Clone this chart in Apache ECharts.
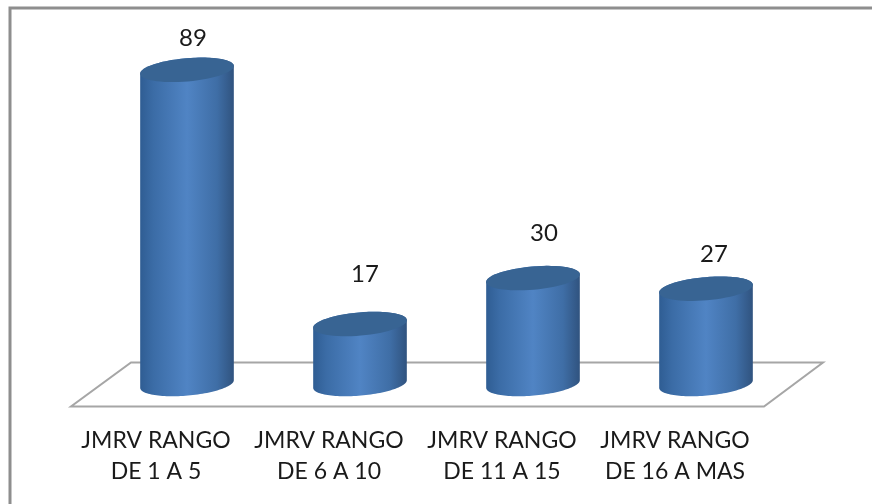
<!DOCTYPE html>
<html>
<head>
<meta charset="utf-8">
<style>html,body{margin:0;padding:0;background:#fff}#c{width:872px;height:504px}</style>
<script src="https://cdn.jsdelivr.net/npm/echarts@6/dist/echarts.min.js"></script>
</head>
<body>
<div id="c"></div>
<script>
const categories = ['JMRV RANGO\nDE 1 A 5', 'JMRV RANGO\nDE 6 A 10', 'JMRV RANGO\nDE 11 A 15', 'JMRV RANGO\nDE 16 A MAS'];
const values = [89, 17, 30, 27];
const labelShiftX = [6, 5, 11, 8];
const labelLift = [32, 50, 45, 34];

const RX = 47, RY = 11.6, TILT = 5 * Math.PI / 180;
function ellipsePoint(cx, cy, t) {
  const ex = RX * Math.cos(t), ey = RY * Math.sin(t);
  return [cx + ex * Math.cos(TILT) + ey * Math.sin(TILT),
          cy - ex * Math.sin(TILT) + ey * Math.cos(TILT)];
}
function arc(cx, cy, from, to) {
  const pts = [];
  for (let i = 0; i <= 60; i++) pts.push(ellipsePoint(cx, cy, from + (to - from) * i / 60));
  return pts;
}
function renderCylinder(params, api) {
  const i = api.value(0);
  const top = api.coord([i, api.value(1)]);
  const base = api.coord([i, 0]);
  const cx = top[0];
  const side = arc(cx, top[1], 0, -Math.PI).concat(arc(cx, base[1], Math.PI, 0));
  return {
    type: 'group',
    children: [
      { type: 'polygon', shape: { points: side }, style: {
          fill: new echarts.graphic.LinearGradient(0, 0, 1, 0, [
            { offset: 0, color: '#2f5d93' },
            { offset: 0.14, color: '#3b6ca6' },
            { offset: 0.5, color: '#5084c4' },
            { offset: 0.82, color: '#3f6ea6' },
            { offset: 1, color: '#30537f' }
          ]) } },
      { type: 'polygon', shape: { points: arc(cx, top[1], 0, 2 * Math.PI) },
        style: { fill: '#386493' } },
      { type: 'text', style: {
          text: String(api.value(1)), x: cx + labelShiftX[i], y: top[1] - labelLift[i],
          align: 'center', verticalAlign: 'middle',
          font: '24px Lato', fill: '#1a1a1a' } }
    ]
  };
}
const chart = echarts.init(document.getElementById('c'), null, { renderer: 'canvas' });
chart.setOption({
  animation: false,
  backgroundColor: '#fff',
  grid: { left: 100.5, width: 692, top: 31, height: 353, containLabel: false, outerBoundsMode: 'none' },
  xAxis: {
    type: 'category', data: categories,
    axisLine: { show: false }, axisTick: { show: false }, splitLine: { show: false },
    axisLabel: { margin: 41, fontFamily: 'Lato', fontSize: 23, lineHeight: 31, color: '#1a1a1a', interval: 0, padding: [0, 62, 0, 0] }
  },
  yAxis: { type: 'value', min: 0, max: 100, show: false, splitLine: { show: false } },
  graphic: [
    { type: 'polyline', silent: true, z: -1, shape: { points: [[10, 504], [10, 8], [872, 8]] },
      style: { stroke: '#8e8e8e', lineWidth: 3, fill: null } },
    { type: 'polygon', silent: true, z: -1, shape: { points: [[71, 406.5], [764, 406.5], [823, 362.5], [131, 362.5]] },
      style: { stroke: '#a6a6a6', lineWidth: 2, fill: '#fff' } }
  ],
  series: [{
    type: 'custom',
    renderItem: renderCylinder,
    encode: { x: 0, y: 1 },
    z: 5,
    data: values.map((v, i) => [i, v])
  }]
});
</script>
</body>
</html>
